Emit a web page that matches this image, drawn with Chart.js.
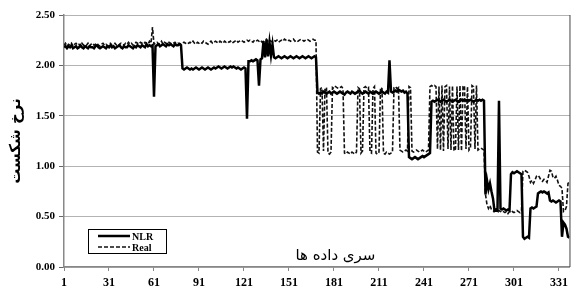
<!DOCTYPE html>
<html>
<head>
<meta charset="utf-8">
<script src="https://cdn.jsdelivr.net/npm/chart.js@4.4.0/dist/chart.umd.min.js"></script>
<style>
  html, body { margin: 0; padding: 0; background: #fff; }
  #grafico { display: block; }
</style>
</head>
<body>
<canvas id="grafico" width="573" height="290"></canvas>
<script>
// valores (338 pontos)
const nlr = [
  2.18, 2.19, 2.17, 2.19, 2.18, 2.20, 2.17, 2.18, 2.19, 2.17,
  2.18, 2.20, 2.18, 2.17, 2.19, 2.18, 2.17, 2.19, 2.18, 2.18,
  2.17, 2.19, 2.20, 2.18, 2.17, 2.18, 2.19, 2.18, 2.17, 2.19,
  2.18, 2.20, 2.18, 2.19, 2.17, 2.18, 2.19, 2.20, 2.18, 2.17,
  2.19, 2.18, 2.18, 2.20, 2.19, 2.18, 2.17, 2.19, 2.18, 2.20,
  2.19, 2.18, 2.20, 2.19, 2.18, 2.21, 2.19, 2.20, 2.19, 2.20,
  1.69, 2.19, 2.20, 2.21, 2.19, 2.20, 2.21, 2.20, 2.19, 2.21,
  2.20, 2.21, 2.20, 2.19, 2.21, 2.20, 2.20, 2.21, 2.20, 1.97,
  1.96, 1.97, 1.98, 1.97, 1.96, 1.97, 1.96, 1.97, 1.98, 1.97,
  1.96, 1.97, 1.98, 1.97, 1.96, 1.97, 1.98, 1.97, 1.96, 1.97,
  1.98, 1.97, 1.98, 1.99, 1.98, 1.97, 1.98, 1.99, 1.98, 1.97,
  1.98, 1.99, 1.98, 1.99, 1.98, 1.97, 1.98, 1.97, 1.96, 1.97,
  1.98, 1.97, 1.47, 2.04, 2.04, 2.05, 2.04, 2.05, 2.06, 2.05,
  1.80, 2.06, 2.07, 2.24, 2.08, 2.25, 2.09, 2.23, 2.10, 2.21,
  2.08, 2.07, 2.08, 2.09, 2.08, 2.07, 2.08, 2.09, 2.08, 2.07,
  2.08, 2.09, 2.08, 2.07, 2.08, 2.09, 2.08, 2.07, 2.08, 2.09,
  2.08, 2.07, 2.08, 2.09, 2.08, 2.07, 2.08, 2.09, 2.08, 1.73,
  1.72, 1.73, 1.72, 1.74, 1.73, 1.72, 1.73, 1.74, 1.72, 1.73,
  1.74, 1.73, 1.72, 1.73, 1.74, 1.73, 1.72, 1.71, 1.73, 1.74,
  1.73, 1.72, 1.74, 1.73, 1.72, 1.73, 1.74, 1.75, 1.73, 1.72,
  1.73, 1.74, 1.73, 1.72, 1.74, 1.73, 1.72, 1.73, 1.74, 1.73,
  1.72, 1.73, 1.74, 1.73, 1.72, 1.74, 1.73, 2.05, 1.74, 1.73,
  1.74, 1.75, 1.74, 1.76, 1.75, 1.74, 1.75, 1.73, 1.74, 1.72,
  1.09, 1.08, 1.07, 1.08, 1.09, 1.08, 1.07, 1.08, 1.09, 1.10,
  1.09, 1.10, 1.11, 1.12, 1.13, 1.64, 1.65, 1.64, 1.65, 1.66,
  1.65, 1.64, 1.65, 1.66, 1.65, 1.64, 1.65, 1.66, 1.65, 1.64,
  1.65, 1.66, 1.65, 1.64, 1.65, 1.66, 1.65, 1.66, 1.65, 1.66,
  1.65, 1.66, 1.65, 1.64, 1.65, 1.66, 1.65, 1.66, 1.65, 1.66,
  1.65, 0.72, 0.86, 0.77, 0.83, 0.75, 0.68, 0.56, 0.57, 0.56,
  1.65, 0.58, 0.57, 0.58, 0.57, 0.56, 0.57, 0.56, 0.92, 0.94,
  0.93, 0.94, 0.95, 0.94, 0.93, 0.92, 0.30, 0.28, 0.29, 0.30,
  0.29, 0.58, 0.59, 0.58, 0.59, 0.60, 0.73, 0.74, 0.75, 0.74,
  0.75, 0.74, 0.73, 0.74, 0.66, 0.65, 0.66, 0.65, 0.64, 0.65,
  0.66, 0.65, 0.30, 0.44, 0.42, 0.38, 0.30, 0.29
];

const real = [
  2.20, 2.22, 2.19, 2.21, 2.20, 2.22, 2.19, 2.21, 2.22, 2.20,
  2.21, 2.19, 2.22, 2.20, 2.21, 2.20, 2.22, 2.19, 2.21, 2.22,
  2.20, 2.21, 2.22, 2.20, 2.19, 2.21, 2.22, 2.20, 2.21, 2.19,
  2.21, 2.22, 2.20, 2.21, 2.22, 2.20, 2.19, 2.21, 2.22, 2.21,
  2.20, 2.22, 2.21, 2.23, 2.21, 2.22, 2.20, 2.21, 2.23, 2.22,
  2.21, 2.23, 2.22, 2.21, 2.23, 2.22, 2.21, 2.24, 2.22, 2.38,
  2.21, 2.22, 2.23, 2.21, 2.22, 2.24, 2.21, 2.23, 2.22, 2.21,
  2.23, 2.22, 2.21, 2.22, 2.23, 2.21, 2.22, 2.22, 2.21, 2.22,
  2.23, 2.22, 2.21, 2.22, 2.23, 2.22, 2.24, 2.22, 2.21, 2.23,
  2.22, 2.23, 2.22, 2.24, 2.23, 2.22, 2.21, 2.23, 2.24, 2.22,
  2.23, 2.24, 2.23, 2.22, 2.24, 2.23, 2.22, 2.24, 2.23, 2.24,
  2.23, 2.24, 2.22, 2.23, 2.24, 2.25, 2.23, 2.24, 2.25, 2.24,
  2.23, 2.24, 2.25, 2.24, 2.25, 2.24, 2.23, 2.25, 2.24, 2.25,
  2.24, 2.25, 2.23, 2.24, 2.25, 2.26, 2.24, 2.25, 2.24, 2.23,
  2.25, 2.24, 2.25, 2.23, 2.24, 2.25, 2.24, 2.26, 2.25, 2.24,
  2.25, 2.24, 2.25, 2.26, 2.24, 2.25, 2.24, 2.25, 2.26, 2.25,
  2.24, 2.25, 2.26, 2.25, 2.24, 2.25, 2.26, 2.25, 2.25, 1.14,
  1.13, 1.77, 1.78, 1.15, 1.77, 1.78, 1.13, 1.12, 1.14, 1.78,
  1.77, 1.79, 1.78, 1.77, 1.78, 1.79, 1.77, 1.13, 1.12, 1.14,
  1.13, 1.12, 1.14, 1.13, 1.12, 1.14, 1.78, 1.77, 1.13, 1.15,
  1.78, 1.79, 1.77, 1.78, 1.14, 1.13, 1.77, 1.79, 1.13, 1.12,
  1.14, 1.78, 1.77, 1.13, 1.12, 1.14, 1.13, 1.12, 1.13, 1.14,
  1.78, 1.79, 1.77, 1.78, 1.16, 1.15, 1.14, 1.15, 1.16, 1.15,
  1.79, 1.78, 1.15, 1.14, 1.15, 1.16, 1.15, 1.14, 1.15, 1.16,
  1.15, 1.14, 1.15, 1.16, 1.79, 1.80, 1.79, 1.80, 1.79, 1.17,
  1.79, 1.16, 1.80, 1.15, 1.79, 1.80, 1.17, 1.79, 1.16, 1.80,
  1.15, 1.17, 1.79, 1.16, 1.80, 1.15, 1.79, 1.80, 1.17, 1.79,
  1.16, 1.18, 1.80, 1.79, 1.17, 1.80, 1.16, 1.17, 1.18, 1.17,
  1.16, 0.72, 0.62, 0.58, 0.61, 0.57, 0.56, 0.55, 0.56, 0.55,
  0.56, 0.55, 0.56, 0.55, 0.54, 0.55, 0.53, 0.55, 0.54, 0.55,
  0.54, 0.55, 0.56, 0.55, 0.54, 0.56, 0.95, 0.96, 0.95, 0.94,
  0.90, 0.84, 0.86, 0.83, 0.86, 0.90, 0.91, 0.89, 0.86, 0.85,
  0.87, 0.86, 0.84, 0.90, 0.96, 0.95, 0.89, 0.88, 0.90, 0.86,
  0.81, 0.80, 0.78, 0.55, 0.56, 0.60, 0.83, 0.84
];

const serie = nlr.map((v, i) => i + 1);   // numero do ponto
const xTicks = [1, 31, 61, 91, 121, 151, 181, 211, 241, 271, 301, 331];
const yTicks = [0, 0.5, 1, 1.5, 2, 2.5];
const tituloY = 'نرخ شکست';
const tituloX = 'سری داده ها';

const fonteEixo = 'Liberation Serif';

// legenda, titulo do eixo X e moldura direita desenhados dentro da area
const extras = {
    id: 'extras',
    afterDraw(chart) {
        const { ctx, chartArea: a } = chart;
        ctx.save();

        ctx.strokeStyle = '#444';
        ctx.lineWidth = 1;
        ctx.beginPath();
        ctx.moveTo(a.right + 0.5, a.top);
        ctx.lineTo(a.right + 0.5, a.bottom);
        ctx.stroke();

        ctx.fillStyle = '#000';
        ctx.font = '15px "DejaVu Sans"';
        ctx.textAlign = 'center';
        ctx.textBaseline = 'alphabetic';
        ctx.fillText(tituloX, a.left + a.width * 0.537, a.bottom - 7);

        const bx = a.left + 24, by = a.bottom - 38, bw = 78, bh = 24;
        ctx.fillStyle = '#fff';
        ctx.fillRect(bx, by, bw, bh);
        ctx.strokeStyle = '#000';
        ctx.lineWidth = 1;
        ctx.strokeRect(bx + 0.5, by + 0.5, bw, bh);

        ctx.font = `bold 10px "${fonteEixo}"`;
        ctx.textAlign = 'left';
        ctx.textBaseline = 'middle';
        chart.data.datasets.forEach((ds, k) => {
            const y = by + 7 + k * 11;
            ctx.strokeStyle = ds.borderColor;
            ctx.lineWidth = ds.borderWidth;
            ctx.setLineDash(ds.borderDash || []);
            ctx.beginPath();
            ctx.moveTo(bx + 10, y);
            ctx.lineTo(bx + 42, y);
            ctx.stroke();
            ctx.setLineDash([]);
            ctx.fillStyle = '#000';
            ctx.fillText(ds.label, bx + 44, y + 1);
        });
        ctx.restore();
    }
};

const ctx = document.getElementById('grafico').getContext('2d');
new Chart(ctx, {
    type: 'line',
    data: {
        datasets: [
            {
                label: 'NLR',
                data: nlr.map((v, i) => ({ x: serie[i], y: v })),
                borderColor: '#000',
                borderWidth: 2.5,
                pointRadius: 0,
                tension: 0
            },
            {
                label: 'Real',
                data: real.map((v, i) => ({ x: serie[i], y: v })),
                borderColor: '#111',
                borderWidth: 1.6,
                borderDash: [4, 2],
                pointRadius: 0,
                tension: 0
            }
        ]
    },
    options: {
        responsive: false,
        animation: false,
        devicePixelRatio: 1,
        layout: { padding: { top: 15, right: 1, left: 0, bottom: 0 } },
        plugins: { legend: { display: false }, tooltip: { enabled: false } },
        scales: {
            x: {
                type: 'linear',
                min: serie[0],
                max: serie[serie.length - 1],
                afterBuildTicks: (s) => { s.ticks = xTicks.map(v => ({ value: v })); },
                afterFit: (s) => { s.height = 23; },
                grid: { drawOnChartArea: false, tickLength: 4, color: '#888' },
                border: { display: true, color: '#888', width: 1.5 },
                ticks: {
                    color: '#000',
                    padding: 5,
                    maxRotation: 0,
                    autoSkip: false,
                    font: { family: fonteEixo, size: 12, weight: 'bold' }
                }
            },
            y: {
                min: 0,
                max: 2.5,
                afterBuildTicks: (s) => { s.ticks = yTicks.map(v => ({ value: v })); },
                afterFit: (s) => { s.width = 64; },
                grid: { color: '#666', lineWidth: 1, tickLength: 5, borderDash: [1, 1] },
                border: { display: true, color: '#888', width: 1.5, dash: [1, 1] },
                ticks: {
                    color: '#000',
                    padding: 4,
                    font: { family: fonteEixo, size: 11, weight: 'bold' },
                    callback: (v) => v.toFixed(2)
                },
                title: {
                    display: true,
                    text: tituloY,
                    color: '#000',
                    padding: { top: 7, bottom: 0 },
                    font: { family: 'DejaVu Sans', size: 15, weight: 'bold' }
                }
            }
        }
    },
    plugins: [extras]
});
</script>
</body>
</html>
